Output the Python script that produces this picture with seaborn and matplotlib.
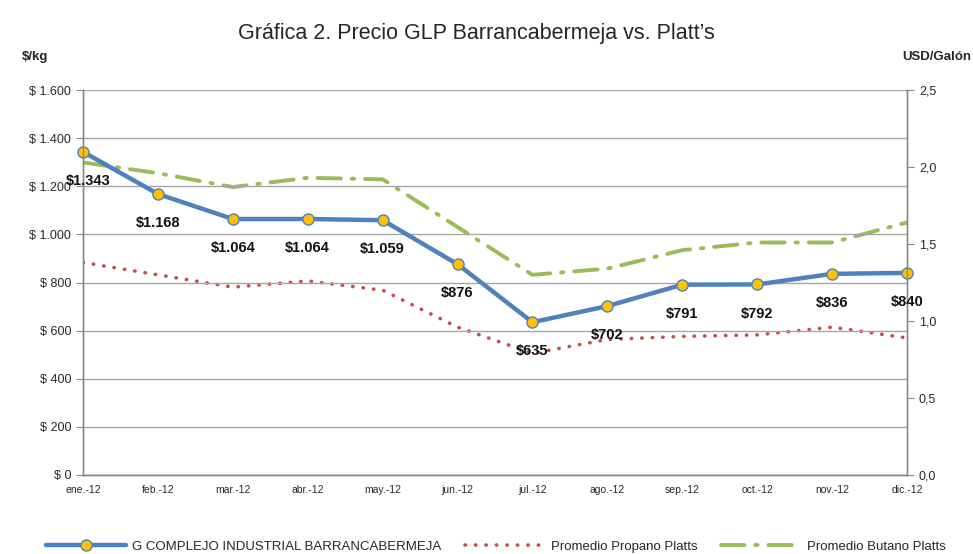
import numpy as np
import pandas as pd
import matplotlib.pyplot as plt
import seaborn as sns
from matplotlib.ticker import FuncFormatter

# data
meses = ["ene.-12", "feb.-12", "mar.-12", "abr.-12", "may.-12", "jun.-12",
         "jul.-12", "ago.-12", "sep.-12", "oct.-12", "nov.-12", "dic.-12"]
precio_glp = [1343, 1168, 1064, 1064, 1059, 876, 635, 702, 791, 792, 836, 840]
propano = [1.38, 1.30, 1.22, 1.26, 1.20, 0.96, 0.79, 0.88, 0.90, 0.91, 0.96, 0.89]
butano = [2.03, 1.96, 1.87, 1.93, 1.92, 1.61, 1.30, 1.34, 1.46, 1.51, 1.51, 1.64]

df = pd.DataFrame({"mes": meses, "x": range(len(meses)), "glp": precio_glp,
                   "propano": propano, "butano": butano})

sns.set_style("white")
plt.rcParams["font.family"] = ["Liberation Sans", "DejaVu Sans"]

fig = plt.figure(figsize=(9.73, 5.54), dpi=100)
ax = fig.add_axes([0.0853, 0.1426, 0.8469, 0.6949])
ax2 = ax.twinx()

sns.lineplot(data=df, x="x", y="propano", ax=ax2, color="#C0504D", lw=2.6,
             linestyle=(0, (0.1, 2.8)), dash_capstyle="round",
             label="Promedio Propano Platts", legend=False)
sns.lineplot(data=df, x="x", y="butano", ax=ax2, color="#9BBB59", lw=2.8,
             linestyle=(0, (6, 2.8, 0.6, 2.8)), dash_capstyle="round",
             label="Promedio Butano Platts", legend=False)
sns.lineplot(data=df, x="x", y="glp", ax=ax, color="#4F81BD", lw=3.2,
             marker="o", markersize=8, markerfacecolor="#FFC000",
             markeredgecolor="#4F81BD", markeredgewidth=1, clip_on=False,
             label="G COMPLEJO INDUSTRIAL BARRANCABERMEJA", legend=False)
ax.set_zorder(ax2.get_zorder() + 1)
ax.patch.set_visible(False)

for i, v in enumerate(precio_glp):
    ax.annotate(f"${v/1000:.3f}" if v >= 1000 else f"${v}", (i, v),
                xytext=(4 if i == 0 else 0, -21), textcoords="offset points",
                ha="center", va="center", fontsize=10.5, fontweight="bold",
                color="#111111")

ax.set_xlim(0, len(meses) - 1)
ax.set_ylim(0, 1600)
ax2.set_ylim(0, 2.5)
ax.set_xticks(range(len(meses)))
ax.set_xticklabels(meses, fontsize=7.5)
ax.set_yticks(np.arange(0, 1601, 200))
ax.yaxis.set_major_formatter(FuncFormatter(lambda v, p: "$ " + f"{int(v):,}".replace(",", ".")))
ax2.set_yticks(np.arange(0, 2.51, 0.5))
ax2.yaxis.set_major_formatter(FuncFormatter(lambda v, p: f"{v:.1f}".replace(".", ",")))
ax.tick_params(axis="y", labelsize=9, length=5, color="#888888", direction="out")
ax2.tick_params(axis="y", labelsize=9, length=5, color="#888888", direction="out")
ax.tick_params(axis="x", length=4, color="#888888", direction="out", pad=3)
ax.grid(axis="y", color="#A6A6A6", lw=1)
ax.set_xlabel("")
ax.set_ylabel("")
ax2.set_ylabel("")

for a in (ax, ax2):
    a.spines["top"].set_visible(False)
    for s in ("left", "right", "bottom"):
        a.spines[s].set_color("#888888")
        a.spines[s].set_linewidth(1)

fig.text(0.49, 0.94, "Gráfica 2. Precio GLP Barrancabermeja vs. Platt’s",
         ha="center", va="center", fontsize=15.5)
fig.text(0.022, 0.897, "$/kg", ha="left", va="center", fontsize=9.5, fontweight="bold")
fig.text(0.998, 0.897, "USD/Galón", ha="right", va="center", fontsize=9.5, fontweight="bold")

h1, l1 = ax.get_legend_handles_labels()
h2, l2 = ax2.get_legend_handles_labels()
fig.legend(h1 + h2, l1 + l2, loc="center", bbox_to_anchor=(0.51, 0.013), ncol=3,
           frameon=False, fontsize=9.5, handlelength=6, columnspacing=1.8,
           handletextpad=0.5)

fig.savefig("out.png", dpi=100)
